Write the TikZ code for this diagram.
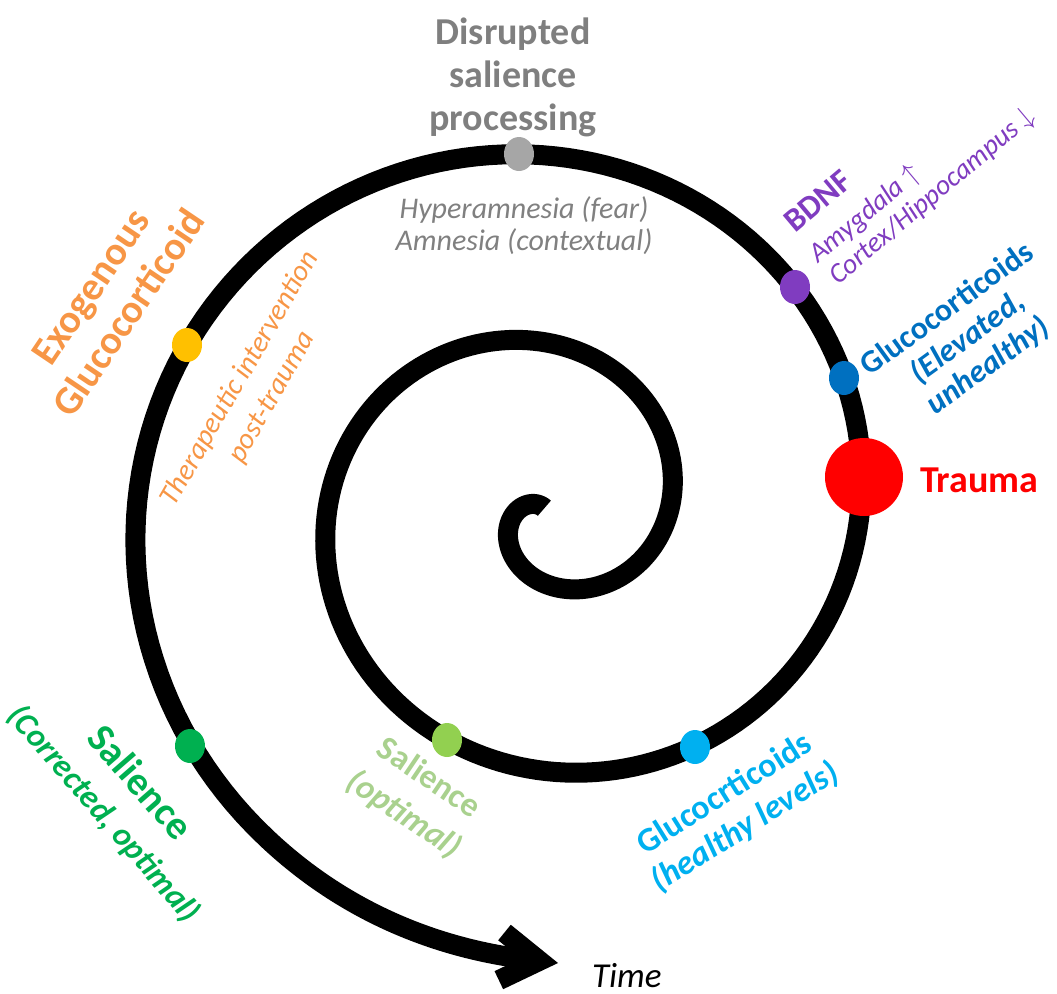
\documentclass[tikz,border=0pt]{standalone}
\usepackage{fontspec}
\setmainfont{Carlito}
\usetikzlibrary{arrows.meta}
\usetikzlibrary{shapes.geometric}

\definecolor{titlegray}{RGB}{127,127,127}
\definecolor{notegray}{RGB}{128,128,128}
\definecolor{dotgray}{RGB}{166,166,166}
\definecolor{bdnfpurple}{RGB}{128,60,192}
\definecolor{elevblue}{RGB}{0,112,192}
\definecolor{healthyblue}{RGB}{0,176,240}
\definecolor{corrgreen}{RGB}{0,176,80}
\definecolor{optdot}{RGB}{146,208,80}
\definecolor{opttext}{RGB}{169,209,142}
\definecolor{exogold}{RGB}{255,192,0}
\definecolor{exoorange}{RGB}{247,150,70}

\begin{document}
\begin{tikzpicture}[x=0.5pt,y=-0.5pt,
		dot/.style={ellipse,inner sep=0pt,minimum width=15pt,minimum height=17pt},
		bigbold/.style={font=\bfseries\fontsize{19}{21.5}\selectfont,align=center},
		midbold/.style={font=\bfseries\fontsize{17}{19.5}\selectfont,align=center}]
		\useasboundingbox (0,0) rectangle (1057,993);

		% the spiral, r = 0.53 t - 67.5 around (546,510)
		\draw[line width=10pt,-{Straight Barb[length=19pt,width=24pt]}]
			plot[domain=132:950,samples=400,variable=\t]
			({546+(0.53*\t-67.5)*cos(\t)},{510-0.98*(0.53*\t-67.5)*sin(\t)})
			.. controls (360,927) and (465,952) .. (558,963);

		% dots on the spiral
		\node[dot,fill=dotgray] (disdot) at (519,154) {};
		\node[dot,fill=bdnfpurple] (bdnfdot) at (795,287) {};
		\node[dot,fill=elevblue] (elevdot) at (844,378) {};
		\node[circle,fill=red,inner sep=0pt,minimum size=39pt] (traumadot) at (864,477) {};
		\node[dot,fill=healthyblue] (healthydot) at (695,747) {};
		\node[dot,fill=optdot] (optdot) at (447,740) {};
		\node[dot,fill=exogold] (exodot) at (187,345) {};
		\node[dot,fill=corrgreen] (corrdot) at (190,746) {};

		% labels
		\node[bigbold,text=titlegray] (distext) at (513,77) {Disrupted\\salience\\processing};
		\node[font=\itshape\fontsize{15}{16}\selectfont,align=center,text=notegray] (amntext) at (524,226)
			{Hyperamnesia (fear)\\Amnesia (contextual)};

		\node[anchor=base west,font=\bfseries\fontsize{19}{21}\selectfont,text=red] (traumatext) at (913,492) {Trauma};

		\node[anchor=base west,rotate=40,font=\bfseries\fontsize{16.5}{18}\selectfont,text=bdnfpurple] (bdnftext) at (790,238) {BDNF};
		\node[anchor=base west,rotate=40,font=\itshape\fontsize{14}{16}\selectfont,text=bdnfpurple] (amytext) at (813,268) {Amygdala $\uparrow$};
		\node[anchor=base west,rotate=40,font=\itshape\fontsize{14}{16}\selectfont,text=bdnfpurple] (cortext) at (833,290) {Cortex/Hippocampus $\downarrow$};

		\node[font=\bfseries\fontsize{16}{17.5}\selectfont,align=center,rotate=36,text=elevblue] (elevtext) at (968,338)
			{Glucocorticoids\\\textit{(Elevated,}\\\textit{unhealthy)}};

		\node[bigbold,font=\bfseries\fontsize{20}{23}\selectfont,rotate=56,text=exoorange] (exotext) at (110,300) {Exogenous\\Glucocorticoid};
		\node[font=\itshape\fontsize{14.5}{18.5}\selectfont,align=center,rotate=60,text=exoorange] (theratext) at (256,388)
			{Therapeutic intervention\\post-trauma};

		\node[bigbold,font=\bfseries\fontsize{20}{22.5}\selectfont,rotate=-49,text=corrgreen] (corrtext) at (122,798)
			{Salience\\\fontsize{16.5}{22.5}\selectfont\textit{(Corrected, optimal)}};
		\node[midbold,font=\bfseries\fontsize{17}{22}\selectfont,rotate=-34,text=opttext] (opttext) at (416,797)
			{Salience\\\textit{(optimal)}};
		\node[midbold,rotate=32,text=healthyblue] (healthytext) at (735,811)
			{Glucocrticoids\\\textit{(healthy levels)}};

		\node[anchor=base west,font=\itshape\fontsize{17.5}{20}\selectfont] (timetext) at (585,987) {Time};
	\end{tikzpicture}
\end{document}
